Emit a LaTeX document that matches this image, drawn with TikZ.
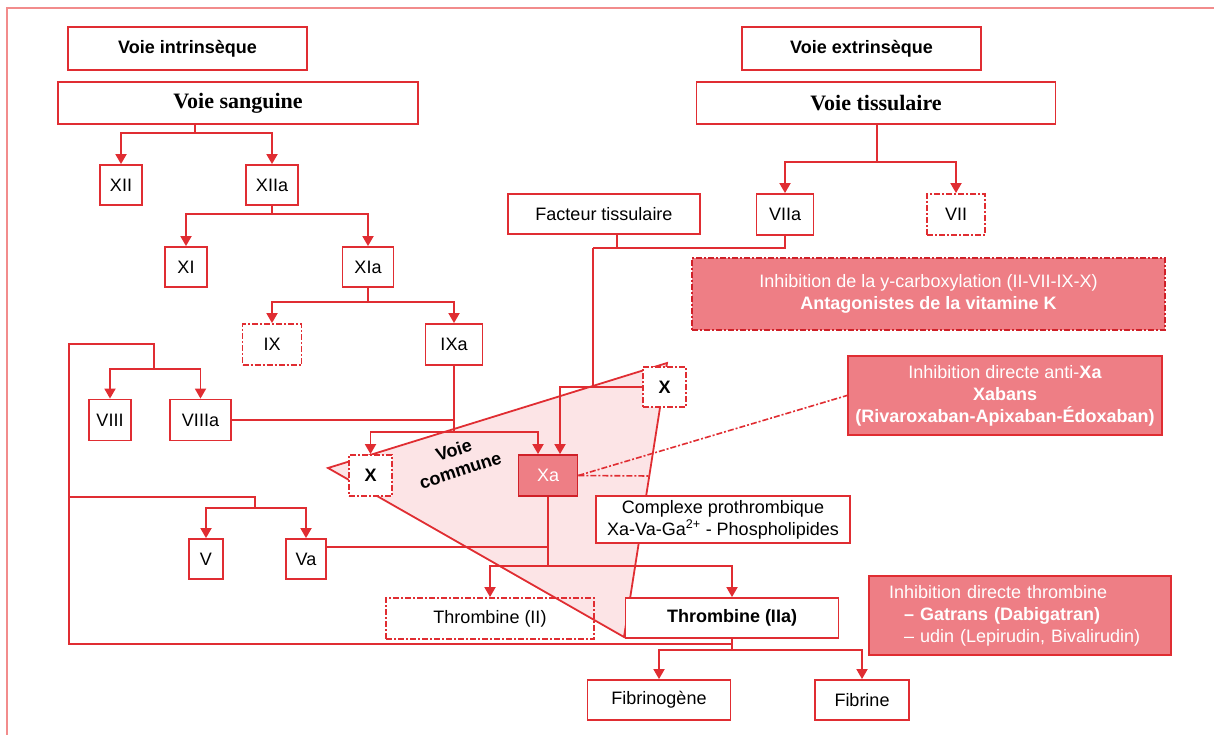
\documentclass[tikz,border=0pt]{standalone}
\usepackage{fontspec}
\setmainfont{Liberation Sans}
\newfontfamily\serifb{Liberation Serif}
\usetikzlibrary{arrows.meta}
\definecolor{lred}{RGB}{224,45,50}
\definecolor{dred}{RGB}{208,32,40}
\definecolor{pinkfill}{RGB}{238,126,133}
\definecolor{commfill}{RGB}{252,228,230}
\definecolor{framecol}{RGB}{242,140,140}
\newcommand\myfs{\fontsize{18}{22}\selectfont}
\begin{document}
\begin{tikzpicture}[x=1pt,y=-1pt,
 font=\myfs,
 box/.style={draw=lred, line width=1.8pt, fill=white, inner sep=0pt, align=center},
 ddbox/.style={box, dash pattern=on 6pt off 2pt on 2pt off 2pt},
 conn/.style={draw=lred, line width=1.8pt},
 arr/.style={conn, -{Triangle[length=10pt,width=11pt]}},
 inhib/.style={draw=dred, line width=2pt, fill=pinkfill, text=white, inner sep=0pt, align=center},
 ddline/.style={draw=lred, line width=1.6pt, dash pattern=on 6pt off 2pt on 2pt off 2pt},
 bft/.style={font=\bfseries\myfs},
 sft/.style={font=\serifb\bfseries\fontsize{22}{24}\selectfont},
]
\useasboundingbox (0,0) rectangle (1214,735);
% outer frame
\draw[framecol, line width=1.2pt] (7,735) -- (7,8) -- (1214,8);
% voie commune area
\draw[conn, fill=commfill, line join=miter] (328,468) -- (667,363) -- (624,637) -- cycle;
\node[rotate=18, align=center, font=\bfseries\fontsize{18}{21}\selectfont] (vc) at (457,460) {Voie\\commune};

% nodes
\node[box, bft, minimum width=239pt, minimum height=43pt] (vint) at (187.5,48.5) {Voie intrinsèque};
\node[box, sft, minimum width=360pt, minimum height=42pt] (vsang) at (238,103) {Voie sanguine};
\node[box, bft, minimum width=239pt, minimum height=43pt] (vext) at (861.5,48.5) {Voie extrinsèque};
\node[box, sft, minimum width=359pt, minimum height=42pt] (vtiss) at (876,103) {Voie tissulaire};

\node[box, minimum width=42pt, minimum height=40pt] (XII) at (121,185) {XII};
\node[box, minimum width=52pt, minimum height=40pt] (XIIa) at (272,185) {XIIa};
\node[box, minimum width=42pt, minimum height=40pt] (XI) at (186,267) {XI};
\node[box, minimum width=51pt, minimum height=40pt] (XIa) at (368,267) {XIa};
\node[ddbox, minimum width=59pt, minimum height=41pt] (IX) at (272,344.5) {IX};
\node[box, minimum width=57pt, minimum height=41pt] (IXa) at (454,344.5) {IXa};
\node[box, minimum width=42pt, minimum height=41pt] (VIII) at (110,420) {VIII};
\node[box, minimum width=61pt, minimum height=41pt] (VIIIa) at (200.5,420) {VIIIa};
\node[box, minimum width=34pt, minimum height=40pt] (V) at (206,559) {V};
\node[box, minimum width=40pt, minimum height=40pt] (Va) at (306,559) {Va};

\node[box, minimum width=192pt, minimum height=40pt] (Facteur) at (604,214) {Facteur tissulaire};
\node[box, minimum width=57pt, minimum height=41pt] (VIIa) at (785,214.5) {VIIa};
\node[ddbox, minimum width=58pt, minimum height=41pt] (VII) at (956,214.5) {VII};

\node[inhib, dash pattern=on 6pt off 2pt on 2pt off 2pt, minimum width=473pt, minimum height=72pt] (avk) at (928.5,294)
 {Inhibition de la y-carboxylation (II-VII-IX-X)\\\textbf{Antagonistes de la vitamine K}};

\node[ddbox, bft, minimum width=43pt, minimum height=40pt] (X2) at (664.5,387) {X};
\node[inhib, draw=lred, minimum width=314pt, minimum height=79pt] (antiXa) at (1005,395.5)
 {Inhibition directe anti-\textbf{Xa}\\\textbf{Xabans}\\\textbf{(Rivaroxaban-Apixaban-Édoxaban)}};

\node[ddbox, bft, minimum width=43pt, minimum height=41pt] (X1) at (370.5,475.5) {X};
\node[box, draw=dred, fill=pinkfill, text=white, minimum width=59pt, minimum height=41pt] (Xa) at (548,475.5) {Xa};
\node[box, minimum width=254pt, minimum height=47pt] (Complexe) at (723,519.5)
 {Complexe prothrombique\\Xa-Va-Ga\textsuperscript{2+} - Phospholipides};

\node[ddbox, fill=none, minimum width=208pt, minimum height=41pt] (ThrII) at (490,618.5) {Thrombine (II)};
\node[box, bft, minimum width=213pt, minimum height=40pt] (ThrIIa) at (732,618) {Thrombine (IIa)};
\node[inhib, draw=lred, align=left, inner xsep=20pt, text width=262pt, minimum height=79pt] (InhThr) at (1020,615.5)
 {Inhibition directe thrombine\\\hspace*{15pt}\textbf{– Gatrans (Dabigatran)}\\\hspace*{15pt}– udin (Lepirudin, Bivalirudin)};

\node[box, minimum width=143pt, minimum height=40pt] (Fibrinogene) at (659,700) {Fibrinogène};
\node[box, minimum width=94pt, minimum height=40pt] (Fibrine) at (862,700) {Fibrine};

% junction coordinates
\coordinate (j1) at (195,133);
\coordinate (j2) at (272,214);
\coordinate (j3) at (368,302);
\coordinate (j4) at (877,162);
\coordinate (j5) at (593,248);
\coordinate (ft) at (617,248);
\coordinate (j7) at (454,432);
\coordinate (j8) at (154,369);
\coordinate (fa) at (154,344);
\coordinate (fb) at (69,344);
\coordinate (fc) at (69,644);
\coordinate (fd) at (732,644);
\coordinate (fe) at (69,497);
\coordinate (ff) at (255,497);
\coordinate (j9) at (255,508);
\coordinate (j10) at (548,547);
\coordinate (j11) at (548,566);
\coordinate (j12) at (732,650);
\coordinate (pe) at (650,476);

% connectors
\draw[conn] (j1 |- vsang.south) -- (j1);
\draw[arr] (j1) -| (XII);
\draw[arr] (j1) -| (XIIa);
\draw[conn] (XIIa) -- (j2);
\draw[arr] (j2) -| (XI);
\draw[arr] (j2) -| (XIa);
\draw[conn] (XIa) -- (j3);
\draw[arr] (j3) -| (IX);
\draw[arr] (j3) -| (IXa);

\draw[conn] (j4 |- vtiss.south) -- (j4);
\draw[arr] (j4) -| (VIIa);
\draw[arr] (j4) -| (VII);

\draw[conn] (VIIa) |- (j5);
\draw[conn] (ft) -- (ft |- Facteur.south);
\draw[conn] (j5) -- (j5 |- X2);
\draw[arr] (X2) -| ([xshift=12pt]Xa.north);

\draw[conn] (IXa) -- (j7);
\draw[conn] (VIIIa.east) -- (VIIIa.east -| j7);
\draw[arr] (j7) -| (X1);
\draw[arr] (j7) -| ([xshift=-10pt]Xa.north);

\draw[conn] (j8) -- (fa) -- (fb) -- (fc) -- (fd);
\draw[arr] (j8) -| (VIII);
\draw[arr] (j8) -| (VIIIa);
\draw[conn] (fe) -- (ff) -- (j9);
\draw[arr] (j9) -| (V);
\draw[arr] (j9) -| (Va);

\draw[conn] (Va.east |- j10) -- (j10);
\draw[conn] (Xa) -- (j11);
\draw[arr] (j11) -| (ThrII);
\draw[arr] (j11) -| (ThrIIa);
\draw[conn] (ThrIIa) -- (j12);
\draw[arr] (j12) -| (Fibrinogene);
\draw[arr] (j12) -| (Fibrine);

\draw[ddline] (Xa.east) -- (antiXa.west);
\draw[ddline] (Xa.east) -- (pe);
\end{tikzpicture}
\end{document}
